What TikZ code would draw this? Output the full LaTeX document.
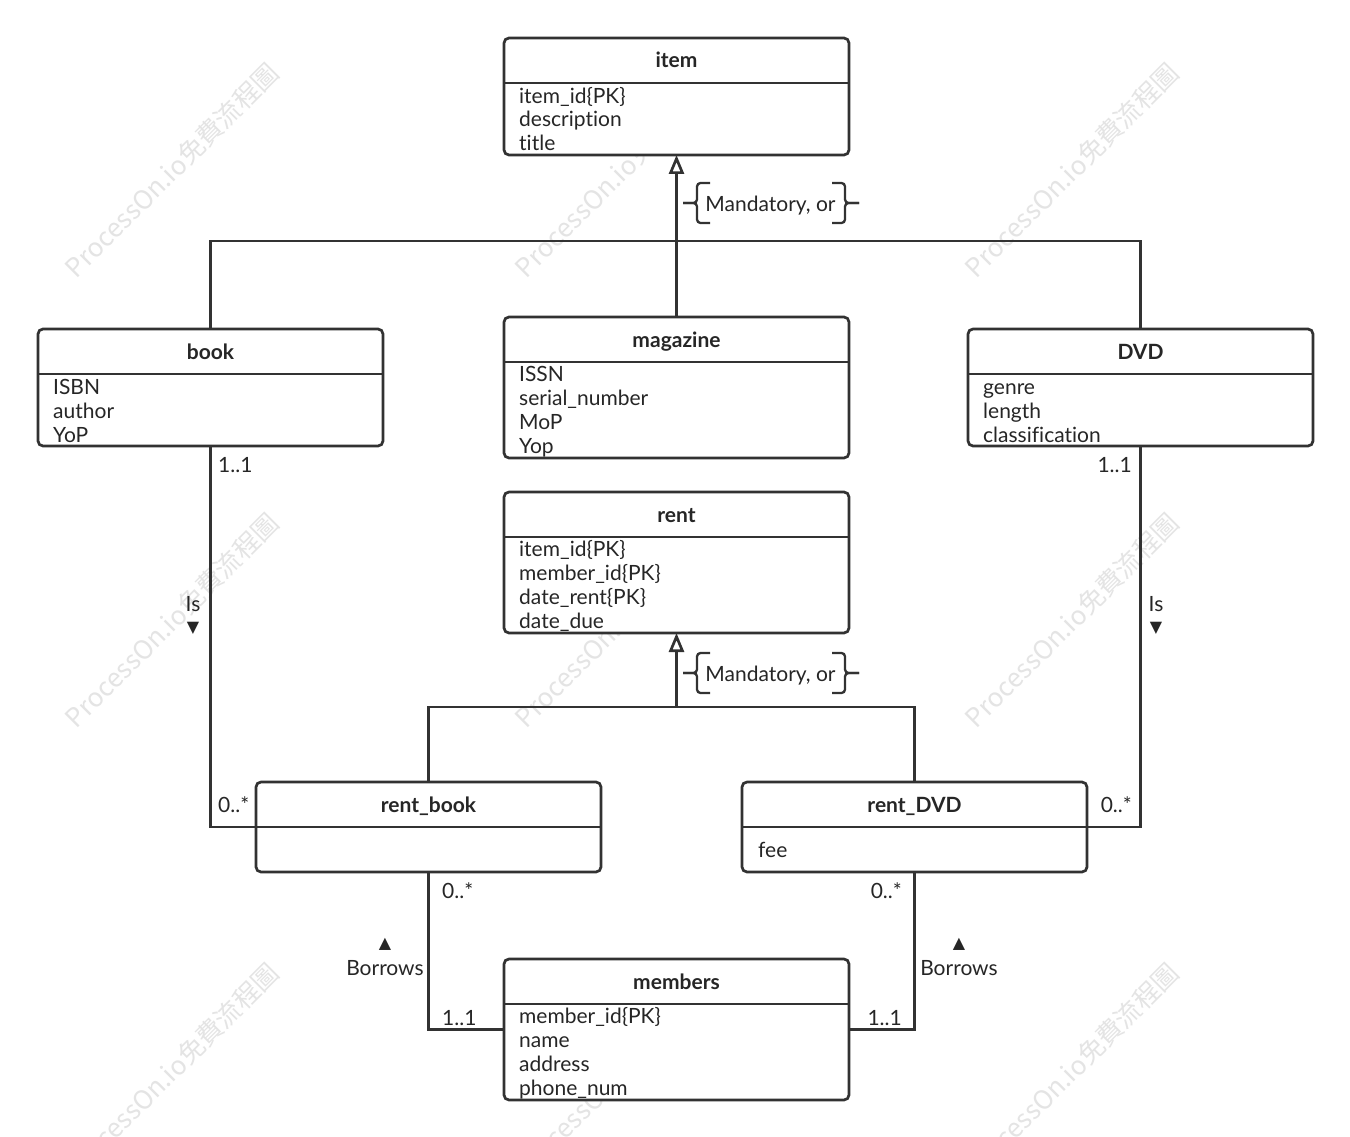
\documentclass[tikz,border=0pt]{standalone}
\usepackage{fontspec}
\setmainfont{Lato}[Ligatures=NoCommon]
\newfontfamily\wmfont{Noto Sans CJK TC}
\newfontfamily\symfont{DejaVu Sans}
\usetikzlibrary{arrows.meta}
\definecolor{lc}{HTML}{323232}
\definecolor{tc}{HTML}{262626}
\definecolor{wmc}{HTML}{E4E4E4}
\begin{document}
\begin{tikzpicture}[x=1pt,y=-1pt,
  box/.style={draw=lc, line width=2.7pt, rounded corners=5pt, fill=white, anchor=north west, minimum width=345pt, inner sep=0pt, outer sep=0pt},
  divl/.style={draw=lc, line width=2.7pt},
  conn/.style={draw=lc, line width=2.7pt},
  brc/.style={draw=lc, line width=2.3pt, rounded corners=3.5pt},
  ttl/.style={font=\fontsize{21pt}{24pt}\selectfont\bfseries, text=tc, inner sep=0pt, anchor=base},
  att/.style={font=\fontsize{21pt}{24pt}\selectfont, text=tc, inner sep=0pt, anchor=base west},
  lbl/.style={font=\fontsize{21pt}{24pt}\selectfont, text=tc, inner sep=0pt},
  sym/.style={font=\symfont\fontsize{16pt}{18pt}\selectfont, text=tc, inner sep=0pt},
  wm/.style={font=\wmfont\fontsize{26pt}{28pt}\selectfont, text=wmc, rotate=45, inner sep=0pt},
  gen/.style={conn, -{Triangle[open, length=19pt, width=15pt, line width=2.7pt]}}
]
\useasboundingbox (0,0) rectangle (1350,1137);
\fill[white] (0,0) rectangle (1350,1137);

% watermarks
\foreach \wx/\wy [count=\k] in {172/170, 622/170, 1072/170, 172/620, 622/620, 1072/620, 172/1070, 622/1070, 1072/1070}
  \node[wm] (wm\k) at (\wx,\wy) {ProcessOn.io免費流程圖};

% ---------- classes ----------
% item
\node[box, minimum height=117pt] (item) at (504,38) {};
\draw[divl] ([yshift=-45pt]item.north west) -- ([yshift=-45pt]item.north east);
\node[ttl] (item-t) at ([yshift=-30pt]item.north) {item};
\node[att] (item-a1) at ([xshift=15pt,yshift=-66pt]item.north west) {item\_id\{PK\}};
\node[att] (item-a2) at ([xshift=15pt,yshift=-89pt]item.north west) {description};
\node[att] (item-a3) at ([xshift=15pt,yshift=-112pt]item.north west) {title};

% book
\node[box, minimum height=117pt] (book) at (38,329) {};
\draw[divl] ([yshift=-45pt]book.north west) -- ([yshift=-45pt]book.north east);
\node[ttl] (book-t) at ([yshift=-30pt]book.north) {book};
\node[att] (book-a1) at ([xshift=15pt,yshift=-65pt]book.north west) {ISBN};
\node[att] (book-a2) at ([xshift=15pt,yshift=-89pt]book.north west) {author};
\node[att] (book-a3) at ([xshift=15pt,yshift=-113pt]book.north west) {YoP};

% magazine
\node[box, minimum height=141pt] (mag) at (504,317) {};
\draw[divl] ([yshift=-45pt]mag.north west) -- ([yshift=-45pt]mag.north east);
\node[ttl] (mag-t) at ([yshift=-30pt]mag.north) {magazine};
\node[att] (mag-a1) at ([xshift=15pt,yshift=-64pt]mag.north west) {ISSN};
\node[att] (mag-a2) at ([xshift=15pt,yshift=-88pt]mag.north west) {serial\_number};
\node[att] (mag-a3) at ([xshift=15pt,yshift=-112pt]mag.north west) {MoP};
\node[att] (mag-a4) at ([xshift=15pt,yshift=-136pt]mag.north west) {Yop};

% DVD
\node[box, minimum height=117pt] (dvd) at (968,329) {};
\draw[divl] ([yshift=-45pt]dvd.north west) -- ([yshift=-45pt]dvd.north east);
\node[ttl] (dvd-t) at ([yshift=-30pt]dvd.north) {DVD};
\node[att] (dvd-a1) at ([xshift=15pt,yshift=-65pt]dvd.north west) {genre};
\node[att] (dvd-a2) at ([xshift=15pt,yshift=-89pt]dvd.north west) {length};
\node[att] (dvd-a3) at ([xshift=15pt,yshift=-113pt]dvd.north west) {classification};

% rent
\node[box, minimum height=141pt] (rent) at (504,492) {};
\draw[divl] ([yshift=-45pt]rent.north west) -- ([yshift=-45pt]rent.north east);
\node[ttl] (rent-t) at ([yshift=-30pt]rent.north) {rent};
\node[att] (rent-a1) at ([xshift=15pt,yshift=-64pt]rent.north west) {item\_id\{PK\}};
\node[att] (rent-a2) at ([xshift=15pt,yshift=-88pt]rent.north west) {member\_id\{PK\}};
\node[att] (rent-a3) at ([xshift=15pt,yshift=-112pt]rent.north west) {date\_rent\{PK\}};
\node[att] (rent-a4) at ([xshift=15pt,yshift=-136pt]rent.north west) {date\_due};

% rent_book
\node[box, minimum height=90pt] (rbook) at (256,782) {};
\draw[divl] ([yshift=-45pt]rbook.north west) -- ([yshift=-45pt]rbook.north east);
\node[ttl] (rbook-t) at ([yshift=-30pt]rbook.north) {rent\_book};

% rent_DVD
\node[box, minimum height=90pt] (rdvd) at (742,782) {};
\draw[divl] ([yshift=-45pt]rdvd.north west) -- ([yshift=-45pt]rdvd.north east);
\node[ttl] (rdvd-t) at ([yshift=-30pt]rdvd.north) {rent\_DVD};
\node[att] (rdvd-a1) at ([xshift=16pt,yshift=-75pt]rdvd.north west) {fee};

% members
\node[box, minimum height=141pt] (mem) at (504,959) {};
\draw[divl] ([yshift=-45pt]mem.north west) -- ([yshift=-45pt]mem.north east);
\node[ttl] (mem-t) at ([yshift=-30pt]mem.north) {members};
\node[att] (mem-a1) at ([xshift=15pt,yshift=-64pt]mem.north west) {member\_id\{PK\}};
\node[att] (mem-a2) at ([xshift=15pt,yshift=-88pt]mem.north west) {name};
\node[att] (mem-a3) at ([xshift=15pt,yshift=-112pt]mem.north west) {address};
\node[att] (mem-a4) at ([xshift=15pt,yshift=-136pt]mem.north west) {phone\_num};

% ---------- generalisations ----------
\coordinate (g1) at (676.5,241);
\draw[conn] (book.north) |- (g1) -| (dvd.north);
\draw[gen] (mag.north) -- (item.south);
\node[lbl, anchor=base] (m1) at (770.5,211.5) {Mandatory, or};
\draw[brc] (710,183) -- (697,183) -- (697,203) -- (683,203);
\draw[brc] (683,203) -- (697,203) -- (697,223) -- (710,223);
\draw[brc] (832,183) -- (845,183) -- (845,203) -- (859,203);
\draw[brc] (859,203) -- (845,203) -- (845,223) -- (832,223);

\coordinate (g2) at (676.5,707);
\draw[conn] (rbook.north) |- (g2) -| (rdvd.north);
\draw[gen] (g2) -- (rent.south);
\node[lbl, anchor=base] (m2) at (770.5,681.5) {Mandatory, or};
\draw[brc] (710,653) -- (697,653) -- (697,673) -- (683,673);
\draw[brc] (683,673) -- (697,673) -- (697,693) -- (710,693);
\draw[brc] (832,653) -- (845,653) -- (845,673) -- (859,673);
\draw[brc] (859,673) -- (845,673) -- (845,693) -- (832,693);

% ---------- associations ----------
\draw[conn] (book.south) |- (rbook.west);
\node[lbl, anchor=base west] (l1) at (218,472) {1..1};
\node[lbl, anchor=base west] (l2) at (218,812) {0..*};
\node[lbl, anchor=base] (l3) at (193,611) {Is};
\node[sym] (l4) at (193,628) {▼};

\draw[conn] (dvd.south) |- (rdvd.east);
\node[lbl, anchor=base east] (r1) at (1132,472) {1..1};
\node[lbl, anchor=base east] (r2) at (1132,812) {0..*};
\node[lbl, anchor=base] (r3) at (1156,611) {Is};
\node[sym] (r4) at (1156,628) {▼};

\draw[conn] (rbook.south) |- (mem.west);
\node[lbl, anchor=base west] (b1) at (442,898) {0..*};
\node[lbl, anchor=base west] (b2) at (442,1025) {1..1};
\node[sym] (b3) at (385,944) {▲};
\node[lbl, anchor=base] (b4) at (385,975) {Borrows};

\draw[conn] (rdvd.south) |- (mem.east);
\node[lbl, anchor=base east] (d1) at (902,898) {0..*};
\node[lbl, anchor=base east] (d2) at (902,1025) {1..1};
\node[sym] (d3) at (959,944) {▲};
\node[lbl, anchor=base] (d4) at (959,975) {Borrows};
\end{tikzpicture}
\end{document}
